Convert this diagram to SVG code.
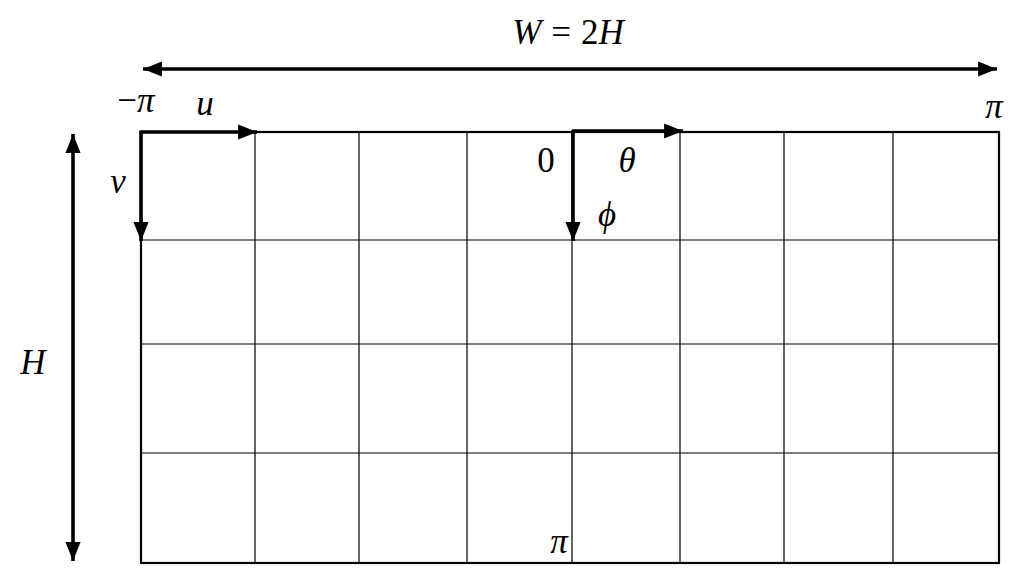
<svg xmlns="http://www.w3.org/2000/svg" width="1024" height="584" viewBox="0 0 1024 584">
<style>
.grid{stroke:#000;stroke-width:1.2;fill:none}
.frame{stroke:#000;stroke-width:2.2;fill:none}
.ax{stroke:#000;stroke-width:3.6;fill:none}
.dim{stroke:#000;stroke-width:3.6;fill:none}
.t{font-family:"Liberation Serif","DejaVu Serif",serif;font-size:35px;fill:#000}
.i{font-style:italic}
</style>
<defs>
<marker id="ah" viewBox="0 0 10 8" refX="10" refY="4" markerWidth="5.5" markerHeight="4.2" markerUnits="strokeWidth" orient="auto-start-reverse">
<path d="M0,0 L10,4 L0,8 Z" fill="#000"/>
</marker>
</defs>
<rect width="1024" height="584" fill="#fff"/>
<g id="grid">
<rect class="frame" x="141" y="132" width="858" height="431"/>
<path class="grid" d="M255,132V563M359,132V563M467,132V563M572,132V563M680,132V563M784,132V563M893,132V563M141,240H999M141,344H999M141,453H999"/>
</g>
<g id="connectors">
<line class="dim" x1="143" y1="69" x2="997" y2="69" marker-start="url(#ah)" marker-end="url(#ah)"/>
<line class="dim" x1="73" y1="134" x2="73" y2="561" marker-start="url(#ah)" marker-end="url(#ah)"/>
<line class="ax" x1="141" y1="132" x2="257" y2="132" marker-end="url(#ah)"/>
<line class="ax" x1="141" y1="130.5" x2="141" y2="241" marker-end="url(#ah)"/>
<line class="ax" x1="572" y1="131" x2="683" y2="131" marker-end="url(#ah)"/>
<line class="ax" x1="573" y1="130" x2="573" y2="241" marker-end="url(#ah)"/>
</g>
<g id="labels">
<text class="t" x="568" y="44" text-anchor="middle"><tspan class="i">W</tspan><tspan dx="10">=</tspan><tspan dx="10">2</tspan><tspan class="i">H</tspan></text>
<text class="t" x="136" y="112" text-anchor="middle">−<tspan class="i">π</tspan></text>
<text class="t i" x="205" y="115" text-anchor="middle">u</text>
<text class="t i" x="118" y="193" text-anchor="middle">v</text>
<text class="t" x="546" y="172" text-anchor="middle">0</text>
<text class="t i" x="627" y="172" text-anchor="middle">θ</text>
<text class="t i" x="607" y="226" text-anchor="middle">ϕ</text>
<text class="t i" x="994" y="118" text-anchor="middle">π</text>
<text class="t i" x="559" y="553" text-anchor="middle">π</text>
<text class="t i" x="33" y="374" text-anchor="middle">H</text>
</g>
</svg>
